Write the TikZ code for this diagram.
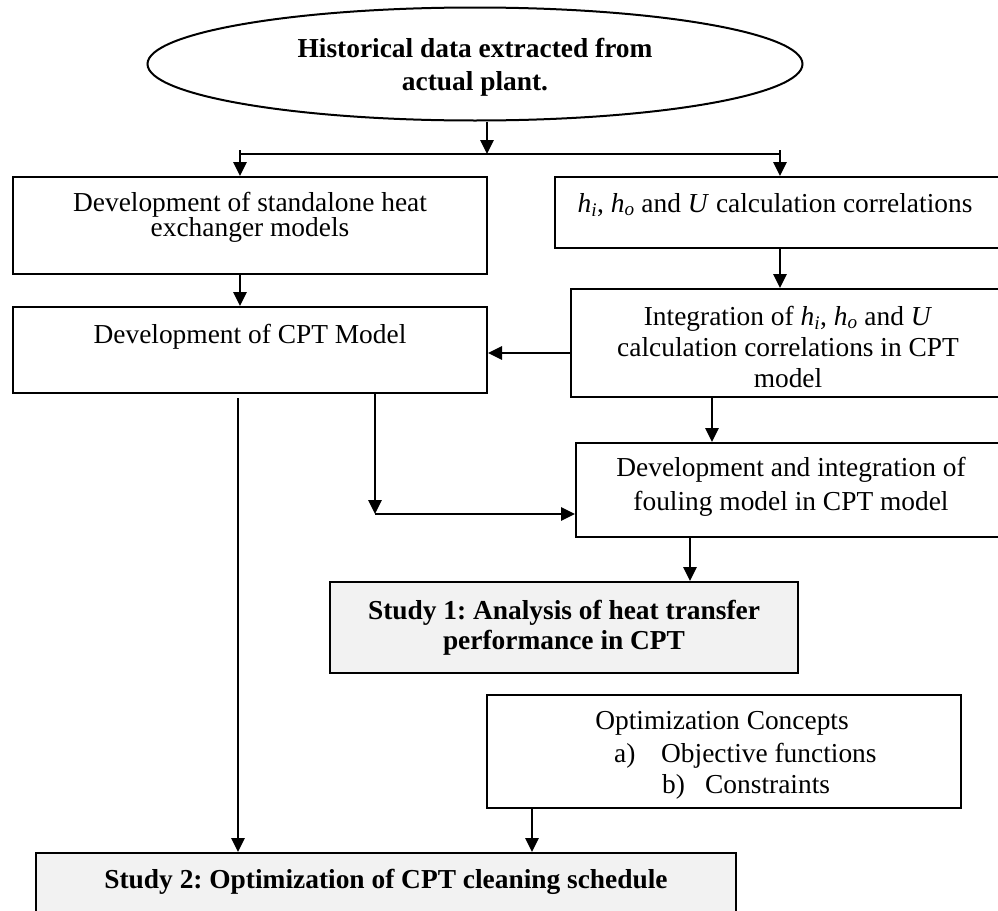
\documentclass[tikz,border=0pt]{standalone}
\usepackage{fontspec}
\setmainfont{Liberation Serif}
\usetikzlibrary{shapes.geometric,arrows.meta}
\newcommand{\fsz}{\fontsize{27.4}{33}\selectfont\frenchspacing}
\newcommand{\hsub}[1]{\textit{h}\textsubscript{\textit{#1}}}
\begin{document}
\begin{tikzpicture}[x=1pt,y=-1pt,
  box/.style={draw, line width=2pt, inner sep=0pt, fill=white},
  graybox/.style={box, fill=black!5},
  txt/.style={anchor=base, inner sep=0pt, font=\fsz},
  btxt/.style={txt, font=\fsz\bfseries},
  ltxt/.style={txt, anchor=base west},
  conn/.style={line width=1.6pt},
  arr/.style={conn, -{Triangle[length=14pt,width=13.5pt]}}]
\useasboundingbox (0,0) rectangle (998,910);
% ellipse
\node[draw, ellipse, line width=2pt, inner sep=0pt, minimum width=655pt, minimum height=113pt] (ell) at (475,64) {};
\node[btxt] (e1) at (475,57) {Historical data extracted from};
\node[btxt] (e2) at (475,90) {actual plant.};
% boxes
\node[box, minimum width=474pt, minimum height=97pt] (A) at (250,225.5) {};
\node[box, minimum width=447pt, minimum height=71pt] (B) at (778.5,212.5) {};
\node[box, minimum width=434pt, minimum height=108pt] (C) at (788,343) {};
\node[box, minimum width=474pt, minimum height=86pt] (D) at (250,350) {};
\node[box, minimum width=430pt, minimum height=94pt] (E) at (791,490) {};
\node[graybox, minimum width=468pt, minimum height=91pt] (S1) at (564,627.5) {};
\node[box, minimum width=474pt, minimum height=113pt] (O) at (724,751.5) {};
\node[graybox, minimum width=700pt, minimum height=72pt] (S2) at (386,889) {};
% texts
\node[txt] (a1) at (250,211) {Development of standalone heat};
\node[txt] (a2) at (250,236) {exchanger models};
\node[txt] (b1) at (775,212) {\hsub{i}, \hsub{o} and \textit{U} calculation correlations};
\node[txt] (c1) at (788,325) {Integration of \hsub{i}, \hsub{o} and \textit{U}};
\node[txt] (c2) at (788,356) {calculation correlations in CPT};
\node[txt] (c3) at (788,387) {model};
\node[txt] (d1) at (250,343) {Development of CPT Model};
\node[txt] (f1) at (791,476) {Development and integration of};
\node[txt] (f2) at (791,510) {fouling model in CPT model};
\node[btxt] (s11) at (564,619) {Study 1: Analysis of heat transfer};
\node[btxt] (s12) at (564,649) {performance in CPT};
\node[txt] (o1) at (722,729) {Optimization Concepts};
\node[ltxt] (o2a) at (614,762) {a)};
\node[ltxt] (o2b) at (661,762) {Objective functions};
\node[ltxt] (o3a) at (662,793) {b)};
\node[ltxt] (o3b) at (705,793) {Constraints};
\node[btxt] (s21) at (386,888) {Study 2: Optimization of CPT cleaning schedule};
% coordinates
\coordinate (br) at (487,154);
\coordinate (brL) at (240,154);
\coordinate (brR) at (780,154);
\coordinate (brLt) at (240,150);
\coordinate (brRt) at (780,150);
\coordinate (cd) at (571,353);
\coordinate (de) at (375,514);
\coordinate (ce) at (712,0);
\coordinate (es) at (690,0);
\coordinate (lv) at (238,398);
\coordinate (os) at (532,0);
% connectors
\draw[arr] (ell.south -| br) -- (br);
\draw[conn] (brL) -- (brR);
\draw[arr] (brLt) -- (A.north -| brL);
\draw[arr] (brRt) -- (B.north -| brR);
\draw[arr] (A.south -| brL) -- (D.north -| brL);
\draw[arr] (B.south -| brR) -- (C.north -| brR);
\draw[arr] (C.west |- cd) -- (D.east |- cd);
\draw[arr] (D.south -| de) -- (de);
\draw[arr] (de) -- (E.west |- de);
\draw[arr] (C.south -| ce) -- (E.north -| ce);
\draw[arr] (E.south -| es) -- (S1.north -| es);
\draw[arr] (lv) -- (S2.north -| lv);
\draw[arr] (O.south -| os) -- (S2.north -| os);
\end{tikzpicture}
\end{document}
